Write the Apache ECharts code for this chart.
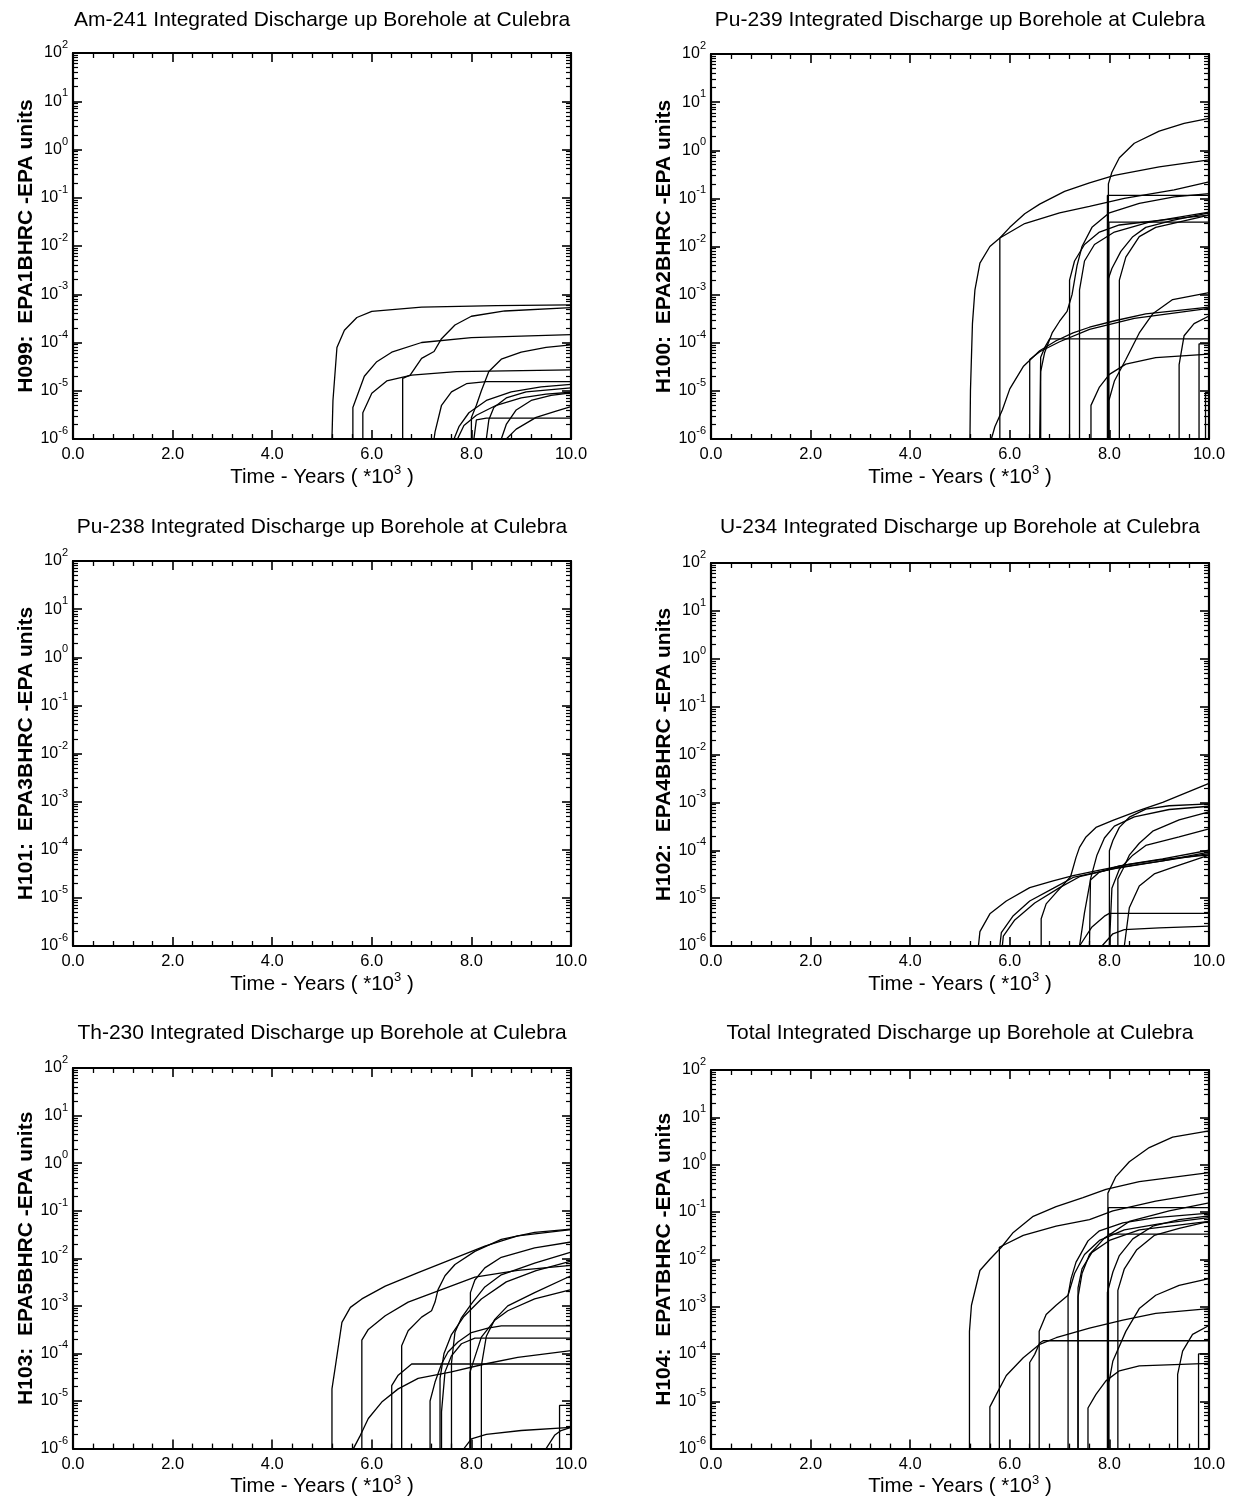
<!DOCTYPE html>
<html><head><meta charset="utf-8">
<script src="https://cdn.jsdelivr.net/npm/echarts@6/dist/echarts.min.js"></script>
<style>html,body{margin:0;padding:0;background:#fff}#c{width:1241px;height:1498px}</style>
</head><body><div id="c"></div>
<script>
// ---------- text ----------
const titles = [
  'Am-241 Integrated Discharge up Borehole at Culebra',
  'Pu-239 Integrated Discharge up Borehole at Culebra',
  'Pu-238 Integrated Discharge up Borehole at Culebra',
  'U-234 Integrated Discharge up Borehole at Culebra',
  'Th-230 Integrated Discharge up Borehole at Culebra',
  'Total Integrated Discharge up Borehole at Culebra'
];
const yNames = [
  'H099:  EPA1BHRC -EPA units',
  'H100:  EPA2BHRC -EPA units',
  'H101:  EPA3BHRC -EPA units',
  'H102:  EPA4BHRC -EPA units',
  'H103:  EPA5BHRC -EPA units',
  'H104:  EPATBHRC -EPA units'
];
// ---------- tick labels ----------
const xTickValues = [0, 2, 4, 6, 8, 10];          // time, *10^3 years
const yDecadeExponents = [-6, -5, -4, -3, -2, -1, 0, 1, 2];
const minorMultipliers = [2, 3, 4, 5, 6, 7, 8, 9];

// ---------- data: [time (*10^3 yr), discharge (EPA units)] ----------
const am241 = [
  [[5.2,1e-6],[5.22,6.3e-6],[5.3,7.9e-5],[5.45,1.8e-4],[5.7,3.3e-4],[6.0,4.4e-4],[7.0,5.4e-4],[8.5,5.8e-4],[10,6.0e-4]],
  [[5.62,1e-6],[5.62,4.5e-6],[5.85,2.0e-5],[6.1,4.0e-5],[6.4,6.3e-5],[7.0,1.0e-4],[8.0,1.26e-4],[10,1.45e-4]],
  [[5.82,1e-6],[5.82,3.5e-6],[6.0,8.9e-6],[6.3,1.6e-5],[6.8,2.1e-5],[7.7,2.5e-5],[10,2.7e-5]],
  [[6.62,1e-6],[6.62,1.8e-5],[6.77,2.1e-5],[7.0,4.7e-5],[7.25,6.5e-5],[7.4,1.2e-4],[7.67,2.3e-4],[8.0,3.5e-4],[8.67,4.5e-4],[10,5.3e-4]],
  [[7.25,1e-6],[7.27,1.4e-6],[7.4,5.0e-6],[7.6,9.5e-6],[7.9,1.4e-5],[8.3,1.55e-5],[10,1.55e-5]],
  [[8.0,1e-6],[8.0,2.8e-6],[8.1,5.0e-6],[8.2,1.0e-5],[8.35,2.5e-5],[8.6,4.5e-5],[9.0,6.3e-5],[9.5,7.9e-5],[10,8.9e-5]],
  [[7.65,1e-6],[7.75,1.8e-6],[7.95,3.5e-6],[8.3,6.3e-6],[8.8,9.5e-6],[9.4,1.2e-5],[10,1.35e-5]],
  [[7.72,1e-6],[7.85,1.9e-6],[8.1,3.1e-6],[8.5,5.0e-6],[9.0,7.1e-6],[9.5,8.5e-6],[10,9.3e-6]],
  [[8.3,1e-6],[8.35,2.5e-6],[8.45,4.5e-6],[8.7,7.1e-6],[9.1,9.5e-6],[10,1.15e-5]],
  [[8.6,1e-6],[8.7,2.0e-6],[8.9,4.0e-6],[9.2,6.3e-6],[9.6,8.0e-6],[10,9.0e-6]],
  [[8.7,1e-6],[8.9,1.6e-6],[9.3,2.8e-6],[9.7,3.8e-6],[10,4.7e-6]],
  [[8.05,1e-6],[8.1,2.5e-6],[8.3,2.7e-6],[10,2.7e-6]]
];
const pu239 = [
  [[5.2,1e-6],[5.21,1e-5],[5.25,2.5e-4],[5.3,1.26e-3],[5.4,4.5e-3],[5.6,1.0e-2],[5.8,1.5e-2],[6.0,2.5e-2],[6.3,4.8e-2],[6.6,7.6e-2],[7.1,0.14],[7.6,0.21],[8.1,0.3],[9.0,0.45],[10,0.63]],
  [[5.8,1e-6],[5.8,1.5e-2],[6.3,3.0e-2],[7.0,5.0e-2],[7.6,6.8e-2],[8.3,0.1],[9.3,0.15],[10,0.22]],
  [[5.63,1e-6],[5.7,1.8e-6],[5.85,4.0e-6],[6.0,1.1e-5],[6.27,3.2e-5],[6.6,6.8e-5],[6.93,1.1e-4],[7.27,1.6e-4],[7.6,2.1e-4],[8.13,2.9e-4],[8.73,4.0e-4],[10,5.5e-4]],
  [[6.4,1e-6],[6.4,4.5e-5],[6.6,6.5e-5],[7.0,1.05e-4],[7.6,1.9e-4],[8.5,3.2e-4],[10,5.2e-4]],
  [[6.6,1e-6],[6.62,5.0e-5],[6.7,7.9e-5],[6.8,1.2e-4],[10,1.2e-4]],
  [[6.62,1e-6],[6.62,2.5e-5],[6.7,6.3e-5],[6.85,1.6e-4],[7.0,2.8e-4],[7.15,4.5e-4],[7.25,1.0e-3],[7.35,4.0e-3],[7.45,1.0e-2],[7.65,2.5e-2],[8.0,5.0e-2],[8.6,7.9e-2],[9.3,0.107],[10,0.126]],
  [[7.2,1e-6],[7.2,2.0e-3],[7.3,5.0e-3],[7.5,1.1e-2],[7.8,2.0e-2],[8.2,2.8e-2],[9.0,3.5e-2],[10,4.5e-2]],
  [[7.4,1e-6],[7.4,1.26e-3],[7.5,5.0e-3],[7.7,1.1e-2],[8.1,2.0e-2],[8.8,3.2e-2],[10,5.2e-2]],
  [[7.63,1e-6],[7.63,5.0e-6],[7.8,1.2e-5],[8.0,2.2e-5],[8.33,3.6e-5],[8.93,4.9e-5],[10,5.8e-5]],
  [[7.98,1e-6],[7.98,0.2],[8.05,0.35],[8.2,0.7],[8.5,1.4],[9.0,2.5],[9.5,3.6],[10,4.6]],
  [[7.99,1e-6],[7.99,3.2e-2],[10,3.2e-2]],
  [[7.97,1e-6],[7.97,2.0e-3],[8.05,3.5e-3],[8.23,7.9e-3],[8.47,1.6e-2],[8.73,2.5e-2],[9.27,3.5e-2],[10,5.0e-2]],
  [[8.2,1e-6],[8.2,2.0e-3],[8.33,6.0e-3],[8.6,1.6e-2],[8.93,2.5e-2],[10,4.5e-2]],
  [[7.99,1e-6],[7.99,6.3e-6],[8.1,1.6e-5],[8.33,4.5e-5],[8.6,1.6e-4],[8.87,4.0e-4],[9.27,7.9e-4],[10,1.1e-3]],
  [[9.4,1e-6],[9.4,3.5e-5],[9.5,1.4e-4],[9.7,2.5e-4],[10,3.6e-4]],
  [[9.8,1e-6],[9.8,9.5e-5],[10,9.5e-5]],
  [[9.93,1e-6],[9.93,9.3e-6],[10,9.3e-6]],
  [[7.96,1e-6],[7.96,0.115],[10,0.115]]
];
const pu238 = [];
const u234 = [
  [[5.37,1e-6],[5.4,2.0e-6],[5.6,4.7e-6],[5.93,8.7e-6],[6.4,1.66e-5],[6.87,2.3e-5],[7.27,2.95e-5],[7.73,3.7e-5],[8.4,5.1e-5],[9.07,6.6e-5],[10,1.0e-4]],
  [[5.8,1e-6],[5.83,1.9e-6],[6.07,4.3e-6],[6.4,8.7e-6],[6.87,1.6e-5],[7.27,2.7e-5],[8.07,4.1e-5],[9.07,6.0e-5],[10,9.1e-5]],
  [[5.85,1e-6],[5.87,1.6e-6],[6.1,3.5e-6],[6.5,7.9e-6],[7.0,1.66e-5],[7.4,2.8e-5],[8.2,4.4e-5],[9.2,6.3e-5],[10,8.5e-5]],
  [[6.63,1e-6],[6.63,3.7e-6],[6.73,7.6e-6],[6.93,1.3e-5],[7.22,2.8e-5],[7.33,7.1e-5],[7.4,1.15e-4],[7.53,1.9e-4],[7.73,3.0e-4],[8.07,4.2e-4],[8.6,6.8e-4],[9.07,1.0e-3],[10,2.5e-3]],
  [[7.4,1e-6],[7.5,5.0e-6],[7.62,2.4e-5],[7.8,3.5e-5],[8.2,4.7e-5],[9.0,6.3e-5],[10,8.0e-5]],
  [[8.0,1e-6],[8.0,9.8e-5],[8.07,1.6e-4],[8.2,3.0e-4],[8.4,4.9e-4],[8.73,7.2e-4],[9.2,8.5e-4],[10,9.3e-4]],
  [[8.17,1e-6],[8.17,2.5e-5],[8.27,4.0e-5],[8.4,7.9e-5],[8.6,1.4e-4],[8.87,2.5e-4],[9.4,4.3e-4],[10,6.3e-4]],
  [[8.0,1e-6],[8.05,1.6e-5],[8.2,4.0e-5],[8.47,7.9e-5],[8.73,1.26e-4],[9.4,1.9e-4],[10,2.8e-4]],
  [[8.3,1e-6],[8.4,6.3e-6],[8.6,1.8e-5],[8.9,3.2e-5],[9.3,4.5e-5],[10,7.9e-5]],
  [[7.4,1e-6],[7.65,2.5e-6],[7.9,4.2e-6],[8.0,4.8e-6],[10,4.8e-6]],
  [[7.85,1e-6],[8.07,1.8e-6],[8.3,2.2e-6],[9.0,2.4e-6],[10,2.6e-6]],
  [[7.6,1e-6],[7.62,2.5e-5],[7.75,7.9e-5],[7.9,1.8e-4],[8.1,3.2e-4],[8.5,5.0e-4],[9.2,7.1e-4],[10,8.3e-4]]
];
const th230 = [
  [[5.2,1e-6],[5.2,1.8e-5],[5.27,5.5e-5],[5.4,4.5e-4],[5.57,9.3e-4],[5.8,1.4e-3],[6.27,2.6e-3],[6.93,5.0e-3],[7.6,9.5e-3],[8.27,1.8e-2],[8.93,2.95e-2],[10,4.0e-2]],
  [[5.8,1e-6],[5.8,1.9e-4],[5.93,3.2e-4],[6.27,6.2e-4],[6.73,1.2e-3],[7.4,2.2e-3],[8.07,4.0e-3],[8.93,5.6e-3],[10,7.1e-3]],
  [[6.6,1e-6],[6.6,1.45e-4],[6.73,3.0e-4],[7.0,5.8e-4],[7.2,7.9e-4],[7.27,1.2e-3],[7.33,2.2e-3],[7.47,4.3e-3],[7.67,7.4e-3],[8.07,1.4e-2],[8.6,2.5e-2],[9.27,3.5e-2],[10,4.1e-2]],
  [[6.4,1e-6],[6.4,2.1e-5],[6.53,3.5e-5],[6.8,6.0e-5],[10,6.0e-5]],
  [[5.63,1e-6],[5.77,1.9e-6],[5.93,4.3e-6],[6.2,9.5e-6],[6.53,1.8e-5],[6.93,3.0e-5],[7.6,4.1e-5],[8.27,6.0e-5],[8.93,8.3e-5],[10,1.15e-4]],
  [[7.17,1e-6],[7.17,1.0e-5],[7.27,2.5e-5],[7.4,6.0e-5],[7.53,1.07e-4],[7.73,1.74e-4],[8.0,2.75e-4],[8.33,3.4e-4],[8.6,3.8e-4],[10,3.8e-4]],
  [[7.4,1e-6],[7.4,5.9e-6],[7.47,4.1e-5],[7.6,8.9e-5],[7.8,1.6e-4],[8.07,2.1e-4],[10,2.1e-4]],
  [[7.6,1e-6],[7.6,6.3e-5],[7.67,2.8e-4],[7.8,5.6e-4],[8.0,1.1e-3],[8.27,2.5e-3],[8.6,4.5e-3],[9.27,7.9e-3],[10,1.35e-2]],
  [[7.98,1e-6],[7.98,1.9e-3],[8.07,3.5e-3],[8.27,6.3e-3],[8.6,1.05e-2],[9.27,1.66e-2],[10,2.2e-2]],
  [[8.2,1e-6],[8.2,5.5e-5],[8.3,2.3e-4],[8.47,5.2e-4],[8.73,1.0e-3],[9.27,1.9e-3],[10,4.3e-3]],
  [[7.97,1e-6],[7.97,4.0e-5],[8.2,2.2e-4],[8.47,5.0e-4],[8.73,7.9e-4],[9.27,1.4e-3],[10,2.2e-3]],
  [[9.5,1e-6],[9.67,1.9e-6],[9.8,2.4e-6],[10,2.8e-6]],
  [[9.77,1e-6],[9.77,8.1e-6],[10,8.1e-6]],
  [[7.85,1e-6],[8.0,1.6e-6],[8.3,2.0e-6],[9.0,2.4e-6],[10,2.8e-6]],
  [[7.37,1e-6],[7.37,3.0e-5],[7.45,1.0e-4],[7.6,2.5e-4],[7.85,6.0e-4],[8.2,1.4e-3],[8.7,3.2e-3],[9.3,5.5e-3],[10,8.7e-3]]
];
const total = [
  [[5.19,1e-6],[5.19,3.0e-4],[5.23,1.07e-3],[5.4,5.8e-3],[5.6,1.0e-2],[5.83,1.8e-2],[6.07,3.7e-2],[6.47,8.1e-2],[6.93,0.13],[7.47,0.2],[7.93,0.3],[8.6,0.44],[10,0.68]],
  [[5.79,1e-6],[5.79,1.8e-2],[6.27,3.2e-2],[6.93,5.0e-2],[7.6,6.9e-2],[8.07,0.105],[8.93,0.17],[10,0.26]],
  [[5.6,1e-6],[5.6,7.6e-6],[5.73,1.4e-5],[5.93,3.5e-5],[6.27,8.3e-5],[6.6,1.6e-4],[6.93,2.2e-4],[7.6,3.5e-4],[8.27,5.2e-4],[8.93,7.2e-4],[10,9.1e-4]],
  [[6.4,1e-6],[6.4,6.6e-5],[6.5,9.8e-5],[6.6,1.7e-4],[6.67,1.9e-4],[10,1.9e-4]],
  [[6.59,1e-6],[6.59,3.0e-4],[6.73,6.8e-4],[6.93,1.07e-3],[7.17,1.74e-3],[7.23,3.9e-3],[7.33,8.7e-3],[7.57,2.45e-2],[7.8,4.0e-2],[8.27,5.9e-2],[8.93,7.6e-2],[10,9.5e-2]],
  [[7.17,1e-6],[7.17,1.74e-3],[7.3,5.0e-3],[7.5,1.26e-2],[7.8,2.5e-2],[8.3,4.2e-2],[9.0,5.6e-2],[10,7.6e-2]],
  [[7.37,1e-6],[7.37,2.5e-3],[7.45,6.3e-3],[7.65,1.4e-2],[8.0,2.5e-2],[8.6,4.2e-2],[10,6.3e-2]],
  [[7.57,1e-6],[7.57,7.2e-6],[7.73,1.4e-5],[7.93,2.7e-5],[8.2,4.4e-5],[8.6,5.6e-5],[10,6.3e-5]],
  [[7.97,1e-6],[7.97,0.25],[8.13,0.56],[8.4,1.15],[8.8,2.3],[9.27,3.8],[10,5.2]],
  [[7.98,1e-6],[7.98,3.4e-2],[10,3.4e-2]],
  [[7.96,1e-6],[7.96,2.0e-3],[8.07,5.4e-3],[8.2,1.2e-2],[8.47,2.7e-2],[8.87,5.0e-2],[9.4,6.9e-2],[10,8.3e-2]],
  [[8.17,1e-6],[8.17,2.2e-3],[8.3,6.3e-3],[8.55,1.6e-2],[8.9,3.2e-2],[9.4,4.5e-2],[10,6.3e-2]],
  [[7.99,1e-6],[7.99,2.5e-5],[8.07,7.1e-5],[8.33,3.0e-4],[8.6,9.1e-4],[8.93,1.74e-3],[9.4,2.8e-3],[10,3.9e-3]],
  [[9.37,1e-6],[9.37,3.7e-5],[9.47,1.15e-4],[9.67,2.6e-4],[10,4.0e-4]],
  [[9.79,1e-6],[9.79,1.0e-4],[10,1.0e-4]],
  [[7.98,1e-6],[7.98,0.123],[10,0.123]],
  [[7.37,1e-6],[7.37,1.6e-3],[7.45,5.0e-3],[7.6,1.26e-2],[7.9,2.8e-2],[8.4,6.3e-2],[9.2,0.105],[10,0.155]]
];
const panelData = [am241, pu239, pu238, u234, th230, total];

// ---------- layout (pixels) ----------
const grids = [
  {left: 73,  top: 53,   width: 498, height: 386},
  {left: 711, top: 54,   width: 498, height: 385},
  {left: 73,  top: 561,  width: 498, height: 385},
  {left: 711, top: 563,  width: 498, height: 383},
  {left: 73,  top: 1068, width: 498, height: 383},
  {left: 711, top: 1070, width: 498, height: 383}
];
const titleTops = [5, 5, 512, 512, 1018, 1018];

const FONT = '"Liberation Sans", Arial, Helvetica, sans-serif';
const BLACK = '#000';
const minorExp = [];
yDecadeExponents.slice(0, -1).forEach(n => minorMultipliers.forEach(k => minorExp.push(n + Math.log10(k))));

const option = {
  animation: false,
  backgroundColor: '#fff',
  textStyle: {fontFamily: FONT, color: BLACK},
  title: titles.map((t, i) => ({
    text: t, left: grids[i].left + grids[i].width / 2 - 5, top: titleTops[i], textAlign: 'center',
    textStyle: {fontFamily: FONT, fontSize: 21, fontWeight: 'normal', color: BLACK}
  })),
  grid: grids.map(g => Object.assign({containLabel: false}, g)),
  xAxis: [],
  yAxis: [],
  series: []
};

const lineW = 2.2;
grids.forEach((g, p) => {
  // bottom x axis (labels, name)
  option.xAxis.push({
    gridIndex: p, type: 'value', position: 'bottom', min: 0, max: 10, interval: 2,
    axisLine: {show: true, onZero: false, lineStyle: {color: BLACK, width: lineW}},
    axisTick: {show: true, inside: true, length: 9, lineStyle: {color: BLACK, width: 1.6}, customValues: xTickValues},
    minorTick: {show: true, splitNumber: 5, length: 5, lineStyle: {color: BLACK, width: 1.3}},
    splitLine: {show: false}, minorSplitLine: {show: false},
    axisLabel: {show: true, margin: 7, fontSize: 16.5, color: BLACK, fontFamily: FONT,
      customValues: xTickValues, formatter: v => Number(v).toFixed(1)},
    name: '{n|Time - Years ( *10}{s|3}{n| )}', nameLocation: 'middle', nameGap: 9,
    nameTextStyle: {rich: {
      n: {fontSize: 20.5, fontFamily: FONT, color: BLACK, lineHeight: 26, verticalAlign: 'middle'},
      s: {fontSize: 13, fontFamily: FONT, color: BLACK, verticalAlign: 'top'}
    }}
  });
  // top x axis (mirror ticks)
  option.xAxis.push({
    gridIndex: p, type: 'value', position: 'top', min: 0, max: 10, interval: 2,
    axisLine: {show: true, onZero: false, lineStyle: {color: BLACK, width: lineW}},
    axisTick: {show: true, inside: true, length: 9, lineStyle: {color: BLACK, width: 1.6}},
    minorTick: {show: true, splitNumber: 5, length: 5, lineStyle: {color: BLACK, width: 1.3}},
    splitLine: {show: false}, minorSplitLine: {show: false},
    axisLabel: {show: false}
  });
  // data y axis (log scale), invisible
  option.yAxis.push({
    gridIndex: p, type: 'log', logBase: 10, min: 1e-6, max: 100, show: false,
    splitLine: {show: false}
  });
  ['left', 'right'].forEach(side => {
    // decade ticks (+ labels on the left)
    option.yAxis.push({
      gridIndex: p, type: 'value', position: side, min: -6, max: 2, interval: 1,
      axisLine: {show: true, onZero: false, lineStyle: {color: BLACK, width: lineW}},
      axisTick: {show: true, inside: true, length: 9, lineStyle: {color: BLACK, width: 1.6}},
      splitLine: {show: false},
      axisLabel: side === 'left' ? {
        show: true, margin: 5, formatter: v => '{b|10}{s|' + v + '}',
        rich: {
          b: {fontSize: 16, fontFamily: FONT, color: BLACK, lineHeight: 27, verticalAlign: 'middle'},
          s: {fontSize: 11, fontFamily: FONT, color: BLACK, verticalAlign: 'top'}
        }
      } : {show: false},
      name: side === 'left' ? yNames[p] : '', nameLocation: 'middle', nameRotate: 90, nameGap: 36,
      nameTextStyle: {fontSize: 21, fontWeight: 'bold', fontFamily: FONT, color: BLACK}
    });
    // log minor ticks
    option.yAxis.push({
      gridIndex: p, type: 'value', position: side, min: -6, max: 2,
      axisLine: {show: false},
      axisTick: {show: true, inside: true, length: 5, customValues: minorExp, lineStyle: {color: BLACK, width: 1.2}},
      splitLine: {show: false},
      axisLabel: {show: false}
    });
  });
  panelData[p].forEach((curve, ci) => {
    option.series.push({
      type: 'line', name: titles[p] + ' ' + ci, xAxisIndex: 2 * p, yAxisIndex: 5 * p,
      data: curve, showSymbol: false, symbol: 'none', silent: true, clip: true,
      lineStyle: {color: BLACK, width: 1.3}
    });
  });
});

const chart = echarts.init(document.getElementById('c'), null, {renderer: 'canvas'});
chart.setOption(option);
</script>
</body></html>
